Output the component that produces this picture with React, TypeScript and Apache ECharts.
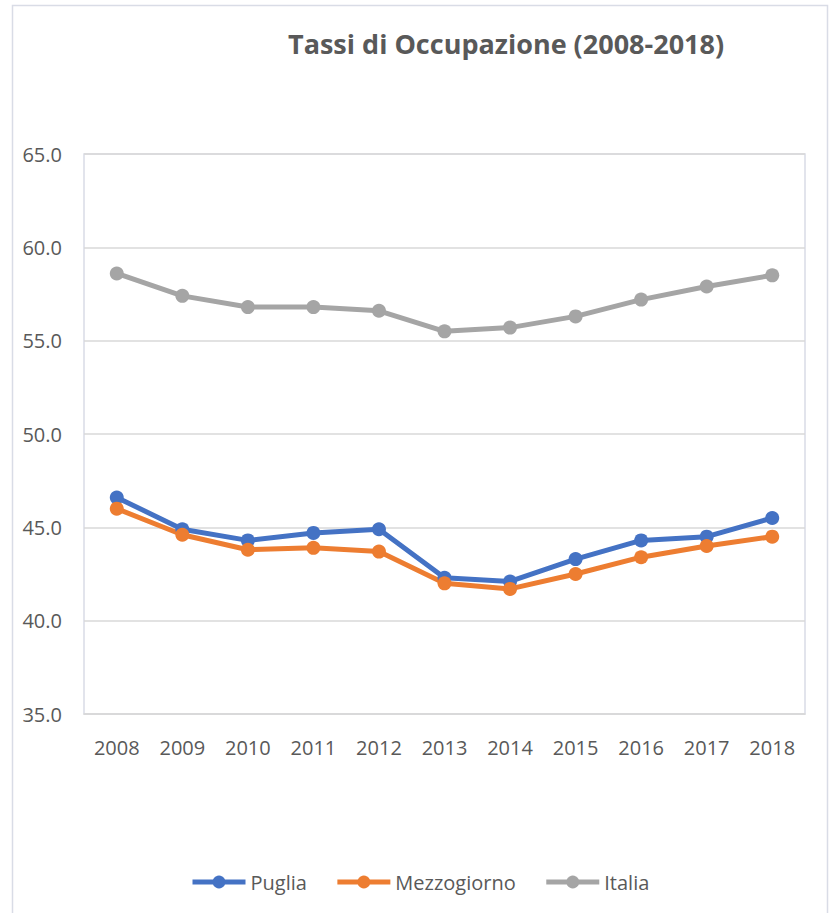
import React, { useEffect, useRef } from "react";
import * as echarts from "echarts";

const years = ["2008", "2009", "2010", "2011", "2012", "2013", "2014", "2015", "2016", "2017", "2018"];
const puglia = [46.6, 44.9, 44.3, 44.7, 44.9, 42.3, 42.1, 43.3, 44.3, 44.5, 45.5];
const mezzogiorno = [46.0, 44.6, 43.8, 43.9, 43.7, 42.0, 41.7, 42.5, 43.4, 44.0, 44.5];
const italia = [58.6, 57.4, 56.8, 56.8, 56.6, 55.5, 55.7, 56.3, 57.2, 57.9, 58.5];
const seriesNames = ["Puglia", "Mezzogiorno", "Italia"];
const seriesColors = ["#4472C4", "#ED7D31", "#A5A5A5"];
const titleText = "Tassi di Occupazione (2008-2018)";

const FONT = "'Open Sans', 'Noto Sans', sans-serif";
const TEXT = "#595959";

export default function App() {
  const ref = useRef<HTMLDivElement>(null);
  useEffect(() => {
    if (!ref.current) return;
    const chart = echarts.init(ref.current, null, { renderer: "svg" });
    const datasets = [puglia, mezzogiorno, italia];
    chart.setOption({
      animation: false,
      backgroundColor: "#ffffff",
      textStyle: { fontFamily: FONT },
      title: {
        text: titleText,
        left: 283,
        top: 25,
        textStyle: { fontFamily: FONT, fontSize: 27, fontWeight: "bold", color: TEXT },
      },
      graphic: [
        {
          type: "rect",
          shape: { x: 12.5, y: 5.5, width: 815, height: 930 },
          style: { fill: "none", stroke: "#d9dce6", lineWidth: 1.5 },
          z: 100,
          silent: true,
        },
      ],
      grid: {
        left: 84,
        right: 24,
        top: 154,
        bottom: 199,
        show: true,
        borderColor: "#d9dce6",
        borderWidth: 1.5,
        backgroundColor: "transparent",
      },
      legend: {
        left: 185,
        top: 867,
        itemWidth: 53,
        itemHeight: 16,
        itemGap: 28,
        data: seriesNames,
        lineStyle: { width: 5 },
        textStyle: { fontFamily: FONT, fontSize: 20, color: TEXT },
      },
      xAxis: {
        type: "category",
        data: years,
        boundaryGap: true,
        axisTick: { show: false },
        axisLine: { lineStyle: { color: "#d9d9d9", width: 1.5 } },
        axisLabel: { fontFamily: FONT, fontSize: 20, color: TEXT, margin: 23 },
      },
      yAxis: {
        type: "value",
        min: 35,
        max: 65,
        interval: 5,
        axisLine: { show: false },
        axisTick: { show: false },
        splitLine: { lineStyle: { color: "#d9d9d9", width: 1.5 } },
        axisLabel: {
          fontFamily: FONT,
          fontSize: 20,
          color: TEXT,
          margin: 22,
          formatter: (v: number) => v.toFixed(1),
        },
      },
      series: datasets.map((d, i) => ({
        name: seriesNames[i],
        type: "line",
        data: d,
        symbol: "circle",
        symbolSize: 14,
        color: seriesColors[i],
        lineStyle: { width: 5, color: seriesColors[i] },
        itemStyle: { color: seriesColors[i] },
      })),
    });
    return () => chart.dispose();
  }, []);
  return (
    <div
      ref={ref}
      style={{ position: "absolute", left: 0, top: 0, width: 829, height: 913 }}
    />
  );
}
